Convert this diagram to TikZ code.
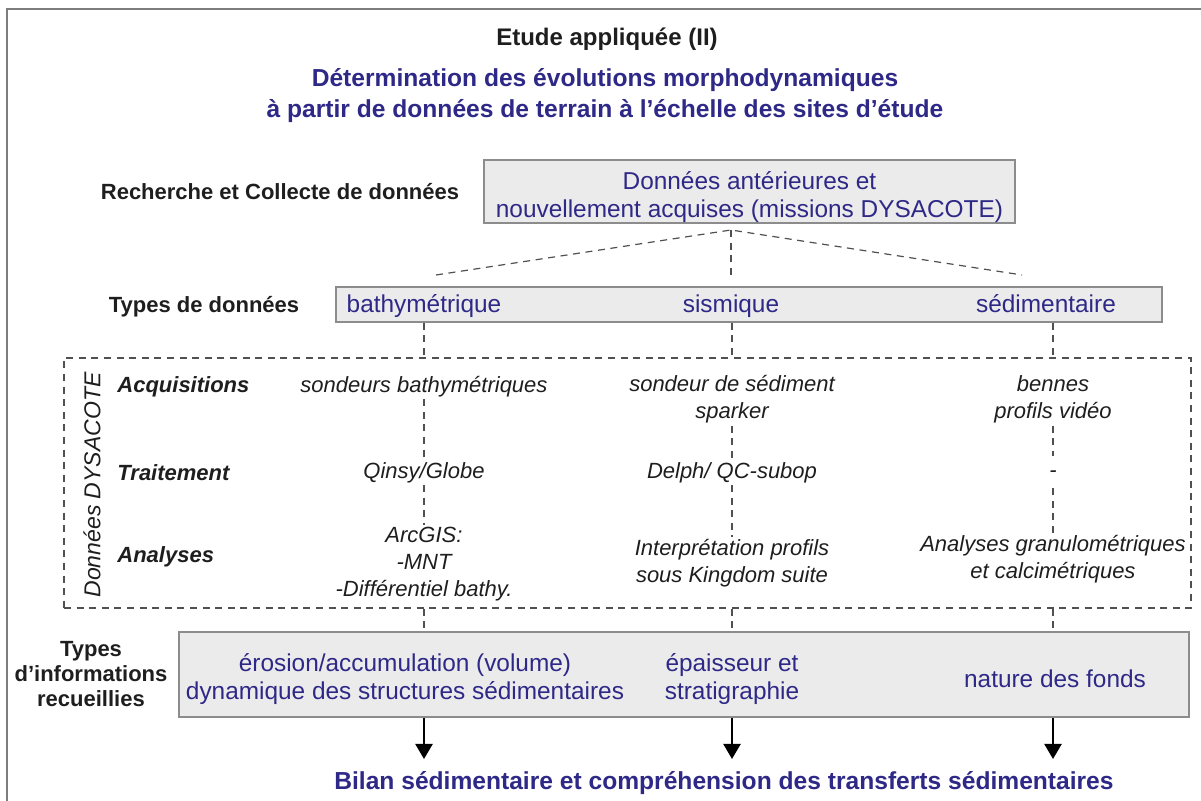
\documentclass[tikz,border=0pt]{standalone}
\usepackage{fontspec}
\setmainfont{Liberation Sans}
\usetikzlibrary{arrows.meta}
\definecolor{tblue}{RGB}{46,40,135}
\definecolor{tblack}{RGB}{30,30,30}
\definecolor{boxfill}{RGB}{235,235,235}
\definecolor{boxline}{RGB}{140,140,140}
\definecolor{framegray}{RGB}{125,125,125}
\definecolor{dashgray}{RGB}{80,80,80}
\begin{document}
\begin{tikzpicture}[x=0.5pt,y=-0.5pt,
 lab/.style={font=\fontsize{11}{12.5}\selectfont\bfseries, text=tblack, align=center, inner sep=0pt, yshift=-1.2pt},
 ttl/.style={font=\fontsize{12}{14}\selectfont\bfseries, text=tblack, inner sep=0pt, yshift=-1.2pt},
 blu/.style={font=\fontsize{12.3}{15.2}\selectfont\bfseries, text=tblue, align=center, inner sep=0pt, yshift=-1.3pt},
 bluetxt/.style={font=\fontsize{12.2}{14}\selectfont, text=tblue, align=center, inner sep=0pt, yshift=-1.3pt},
 gbox/.style={draw=boxline, fill=boxfill, line width=0.6pt, inner sep=0pt},
 itx/.style={font=\fontsize{11}{13.5}\selectfont\itshape, text=tblack, align=center, inner sep=1pt, yshift=-1.2pt},
 rowlab/.style={font=\fontsize{11}{13}\selectfont\bfseries\itshape, text=tblack, anchor=west, inner sep=0pt, yshift=-1.2pt},
 dsh/.style={draw=dashgray, line width=0.6pt, dash pattern=on 3.5pt off 2.8pt},
 arr/.style={draw=black, line width=1.1pt, -{Triangle[width=8.5pt,length=7.5pt]}},
]
\useasboundingbox (0,0) rectangle (1201,801);
\draw[framegray, line width=1.4pt] (7,820) -- (7,9) -- (1220,9);

\node[ttl] (title) at (607,37) {Etude appliquée (II)};
\node[blu] (sub) at (605,93) {Détermination des évolutions morphodynamiques\\à partir de données de terrain à l’échelle des sites d’étude};

\node[lab] (rc) at (280,189) {Recherche et Collecte de données};
\node[gbox, minimum width=265.5pt, minimum height=31.5pt] (b1) at (749.5,191.5) {};
\node[bluetxt] (b1t) at (749.5,194) {Données antérieures et\\nouvellement acquises (missions DYSACOTE)};

\coordinate (apex) at (731,230);
\coordinate (dl) at (436,275);
\coordinate (dr) at (1022,275);
\coordinate (dv) at (731,279);
\draw[dsh] (dl) -- (apex) -- (dr);
\draw[dsh] (apex) -- (dv);

\node[lab] (td) at (204,304) {Types de données};
\node[gbox, minimum width=413pt, minimum height=17.5pt] (b2) at (749,304.5) {};
\node[bluetxt, anchor=base, yshift=1.3pt] (bathy) at (424,313) {bathymétrique};
\node[bluetxt, anchor=base, yshift=1.3pt] (sism) at (731,313) {sismique};
\node[bluetxt, anchor=base, yshift=1.3pt] (sedi) at (1046,313) {sédimentaire};

\node[dsh, minimum width=563.5pt, minimum height=125pt, inner sep=0pt] (dys) at (627.5,483) {};
\node[font=\fontsize{11.5}{13}\selectfont\itshape, text=tblack, rotate=90, inner sep=0pt] (rot) at (92,485) {Données DYSACOTE};

\node[rowlab] (acq) at (117,384) {Acquisitions};
\node[rowlab] (trait) at (117,470) {Traitement};
\node[rowlab] (anal) at (117,554) {Analyses};

\node[itx] (c1a) at (424,384) {sondeurs bathymétriques};
\node[itx] (c1b) at (424,470) {Qinsy/Globe};
\node[itx] (c1c) at (424,562) {ArcGIS:\\-MNT\\-Différentiel bathy.};
\node[itx] (c2a) at (732,397) {sondeur de sédiment\\sparker};
\node[itx] (c2b) at (732,470) {Delph/ QC-subop};
\node[itx] (c2c) at (732,561) {Interprétation profils\\sous Kingdom suite};
\node[itx] (c3a) at (1053,397) {bennes\\profils vidéo};
\node[itx] (c3b) at (1053,470) {\strut-};
\node[itx] (c3c) at (1053,557) {Analyses granulométriques\\et calcimétriques};

\node[lab] (ti) at (91,672) {Types\\d’informations\\recueillies};
\node[gbox, minimum width=505pt, minimum height=42.5pt] (b3) at (684,674.5) {};
\node[bluetxt] (e1) at (405,676) {érosion/accumulation (volume)\\dynamique des structures sédimentaires};
\node[bluetxt] (e2) at (732,676) {épaisseur et\\stratigraphie};
\node[bluetxt] (e3) at (1055,676) {nature des fonds};

\foreach \c in {c1a,c2a,c3a}{
  \draw[dsh] (b2.south -| \c) -- (dys.north -| \c);
}
\foreach \c in {c1c,c2c,c3c}{
  \draw[dsh] (dys.south -| \c) -- (b3.north -| \c);
}
\draw[dsh] (c1a) -- (c1b);
\draw[dsh] (c1b) -- (c1c);
\draw[dsh] (c2a) -- (c2b);
\draw[dsh] (c2b) -- (c2c);
\draw[dsh] (c3a) -- (c3b);
\draw[dsh] (c3b) -- (c3c);

\coordinate (a1) at (424,759);
\coordinate (a2) at (732,759);
\coordinate (a3) at (1053,759);
\draw[arr] (b3.south -| a1) -- (a1);
\draw[arr] (b3.south -| a2) -- (a2);
\draw[arr] (b3.south -| a3) -- (a3);

\node[blu] (bot) at (724,780) {Bilan sédimentaire et compréhension des transferts sédimentaires};
\end{tikzpicture}
\end{document}
